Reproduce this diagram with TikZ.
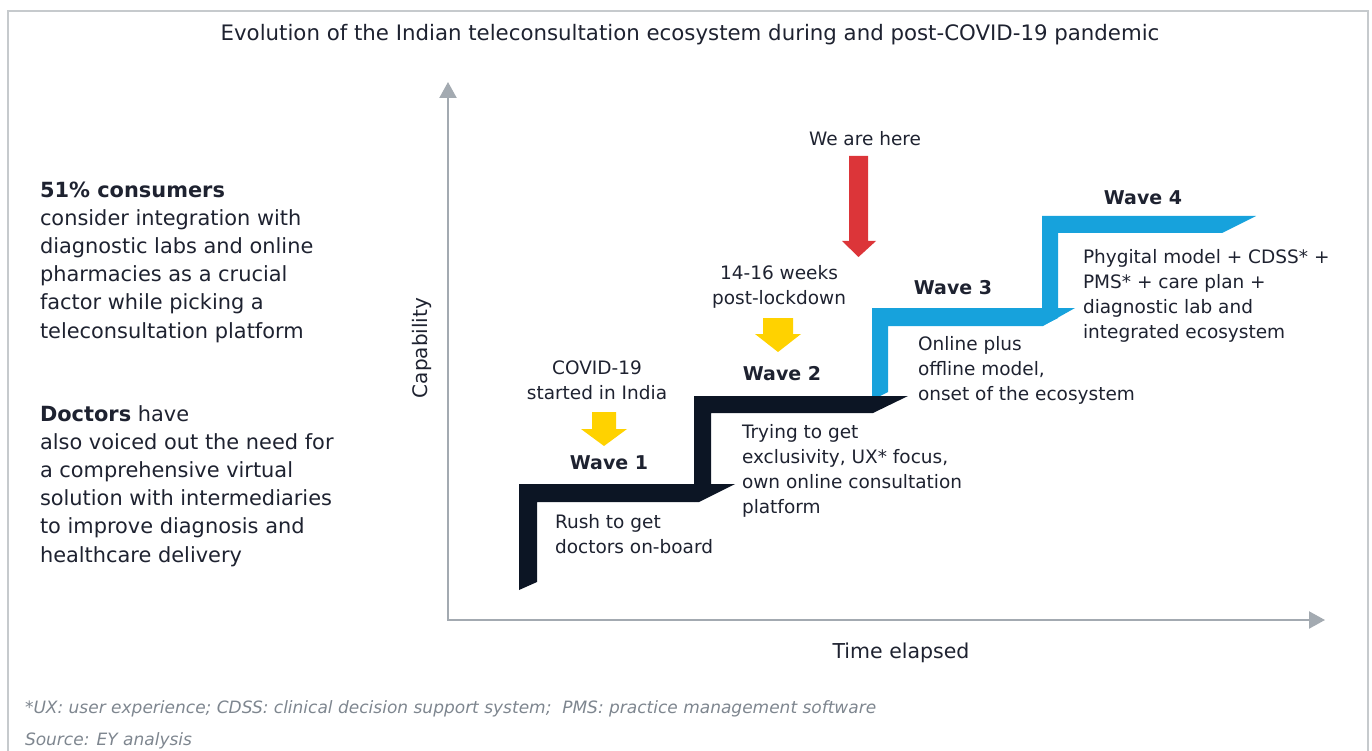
\documentclass[tikz,border=0pt]{standalone}
\usepackage{fontspec}
\setmainfont{DejaVu Sans}
\usetikzlibrary{arrows.meta}
\definecolor{txt}{HTML}{1E2230}
\definecolor{navy}{HTML}{0C1524}
\definecolor{eyblue}{HTML}{17A2DC}
\definecolor{axisgray}{HTML}{A3AAB1}
\definecolor{framegray}{HTML}{C6CACD}
\definecolor{eyyellow}{HTML}{FFD200}
\definecolor{eyred}{HTML}{DC3539}
\definecolor{notegray}{HTML}{7E868F}
\begin{document}
\begin{tikzpicture}[x=1pt,y=-1pt,
  every node/.style={inner sep=0pt,outer sep=0pt,text=txt},
  % multi-line nodes: anchor at the baseline of their LAST line
  sidetext/.style={anchor=base west,align=left,font=\fontsize{20.9}{28.2}\selectfont},
  steptext/.style={anchor=base west,align=left,font=\fontsize{18.5}{25.2}\selectfont},
  cuetext/.style={anchor=base,align=center,font=\fontsize{18.5}{25.2}\selectfont},
  wavelabel/.style={anchor=base,font=\fontsize{19}{23}\selectfont\bfseries},
  notetext/.style={anchor=base west,text=notegray,font=\fontsize{17}{20}\selectfont\itshape},
  axisline/.style={draw=axisgray,line width=2.2pt,-{Triangle[length=16pt,width=17pt]}},
]
\useasboundingbox (0,0) rectangle (1372,751);
% frame
\draw[framegray,line width=2pt] (8,770) -- (8,11) -- (1368,11) -- (1368,770);

% title
\node[anchor=base,font=\fontsize{21.3}{24}\selectfont] (title) at (690,41)
  {Evolution of the Indian teleconsultation ecosystem during and post-COVID-19 pandemic};

% left texts
\node[sidetext] (consumers) at (40,338)
  {\textbf{51\% consumers}\\consider integration with\\diagnostic labs and online\\pharmacies as a crucial\\factor while picking a\\teleconsultation platform};
\node[sidetext] (doctors) at (40,562)
  {\textbf{Doctors} have\\also voiced out the need for\\a comprehensive virtual\\solution with intermediaries\\to improve diagnosis and\\healthcare delivery};

% axes
\coordinate (origin) at (448,620);
\coordinate (ytop) at (448,82);
\coordinate (xend) at (1325,620);
\draw[axisline] (origin) -- (ytop);
\draw[axisline] ([xshift=-1.1pt]origin) -- (xend);
\node[anchor=center,rotate=90,font=\fontsize{20}{24}\selectfont] (ylab) at (422,348) {Capability};
\node[anchor=base,font=\fontsize{20.5}{24}\selectfont] (xlab) at (901,658) {Time elapsed};

% stairs
\fill[eyblue] (872,400) -- (872,308) -- (1075,308) -- (1043,326) -- (888,326) -- (888,392) -- cycle;
\fill[eyblue] (1042,326) -- (1042,216) -- (1256,216) -- (1222,233) -- (1058,233) -- (1058,318) -- cycle;
\fill[navy] (694,502) -- (694,396) -- (908,396) -- (873,413) -- (711,413) -- (711,494) -- cycle;
\fill[navy] (519,590) -- (519,484) -- (735,484) -- (699,502) -- (537,502) -- (537,582) -- cycle;

% cue arrows
\fill[eyred] (849,156) -- (868,156) -- (868,241) -- (876,241) -- (858.5,257) -- (842,241) -- (849,241) -- cycle;
\fill[eyyellow] (592,412) -- (616,412) -- (616,429) -- (627,429) -- (604,446) -- (581,429) -- (592,429) -- cycle;
\fill[eyyellow] (763,318) -- (793,318) -- (793,334) -- (801,334) -- (778,352) -- (755,334) -- (763,334) -- cycle;

% cue texts
\node[cuetext] (here) at (865,146) {We are here};
\node[cuetext] (weeks) at (779,304.2) {14-16 weeks\\post-lockdown};
\node[cuetext] (covid) at (597,399.2) {COVID-19\\started in India};

% wave labels
\node[wavelabel] (w1) at (609,469) {Wave 1};
\node[wavelabel] (w2) at (782,380) {Wave 2};
\node[wavelabel] (w3) at (953,294) {Wave 3};
\node[wavelabel] (w4) at (1143,205) {Wave 4};

% step descriptions
\node[steptext] (d1) at (555,553.2) {Rush to get\\doctors on-board};
\node[steptext] (d2) at (742,513.6) {Trying to get\\exclusivity, UX* focus,\\own online consultation\\platform};
\node[steptext] (d3) at (918,400.4) {Online plus\\offline model,\\onset of the ecosystem};
\node[steptext] (d4) at (1083,338.6) {Phygital model + CDSS* +\\PMS* + care plan +\\diagnostic lab and\\integrated ecosystem};

% notes
\node[notetext] (note) at (25,713) {*UX: user experience; CDSS: clinical decision support system;\ \ PMS: practice management software};
\node[notetext] (source) at (25,745) {Source: EY analysis};
\end{tikzpicture}
\end{document}
